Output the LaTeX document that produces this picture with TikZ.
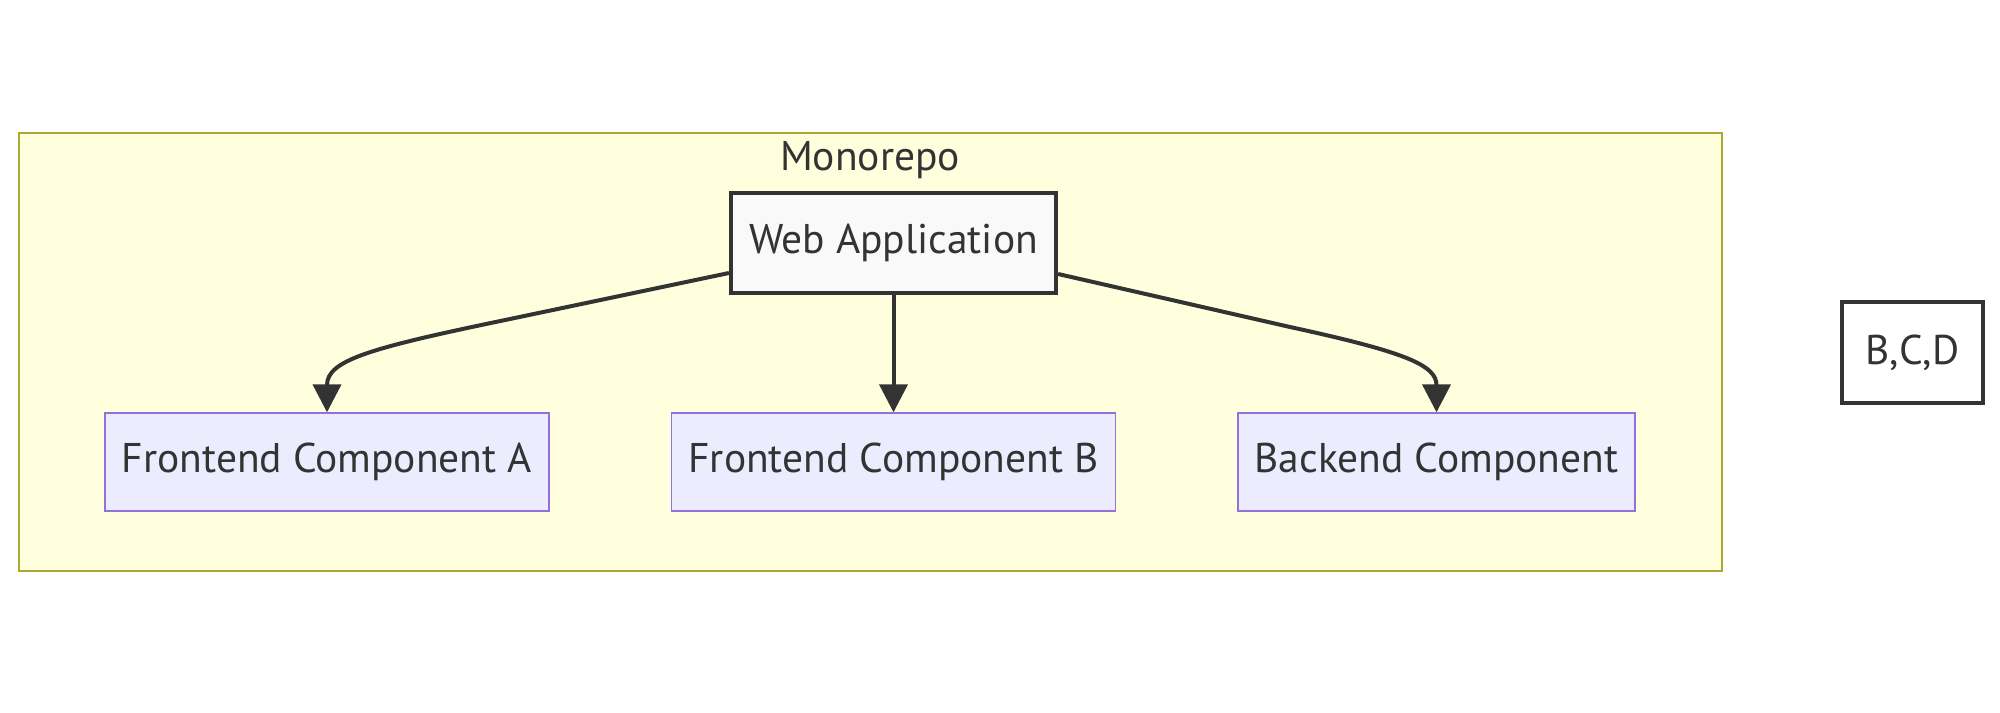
\documentclass[tikz,border=0pt]{standalone}
\usepackage{fontspec}
\setmainfont{PT Sans}
\usetikzlibrary{positioning,arrows.meta,calc}
\definecolor{repofill}{HTML}{FFFFDE}
\definecolor{repoedge}{HTML}{AAAA33}
\definecolor{compfill}{HTML}{ECECFF}
\definecolor{compedge}{HTML}{9370DB}
\definecolor{ink}{HTML}{333333}
\definecolor{appfill}{HTML}{F9F9F9}
\tikzset{
  lbl/.style={font=\fontsize{11.8}{14}\selectfont,text=ink},
  repobox/.style={draw=repoedge,fill=repofill,line width=0.02cm},
  appbox/.style={lbl,draw=ink,fill=appfill,line width=0.04cm,minimum height=1cm,inner sep=0pt},
  comp/.style={lbl,draw=compedge,fill=compfill,line width=0.013cm,minimum height=0.98cm,inner sep=0pt},
  dep/.style={-{Triangle[length=0.28cm,width=0.28cm]},draw=ink,line width=0.04cm},
}
\begin{document}
\begin{tikzpicture}[x=0.01cm,y=-0.01cm]
  \useasboundingbox (0,0) rectangle (2000,712);
  % subgraph frame
  \draw[repobox] (19,133) rectangle (1722,571);
  \node[lbl] (repo) at (870,160) {Monorepo};
  % nodes
  \node[appbox,minimum width=3.25cm] (web) at (893.5,243) {Web Application};
  \node[comp,minimum width=4.44cm] (fea) at (327,462) {Frontend Component A};
  \node[comp,minimum width=4.44cm] (feb) at (893.5,462) {Frontend Component B};
  \node[comp,minimum width=3.97cm] (be) at (1436.5,462) {Backend Component};
  \node[appbox,fill=white,minimum width=1.41cm,minimum height=1.01cm] (bcd) at (1912.5,352.5) {B,C,D};
  % edges
  \draw[dep] ($(web.west)+(0,30)$) -- (510,319) .. controls (370,348) and (327,360) .. (fea.north);
  \draw[dep] (web.south) -- (feb.north);
  \draw[dep] ($(web.east)+(0,31)$) -- (1290,327) .. controls (1405,352) and (1436.5,365) .. (be.north);
\end{tikzpicture}
\end{document}
